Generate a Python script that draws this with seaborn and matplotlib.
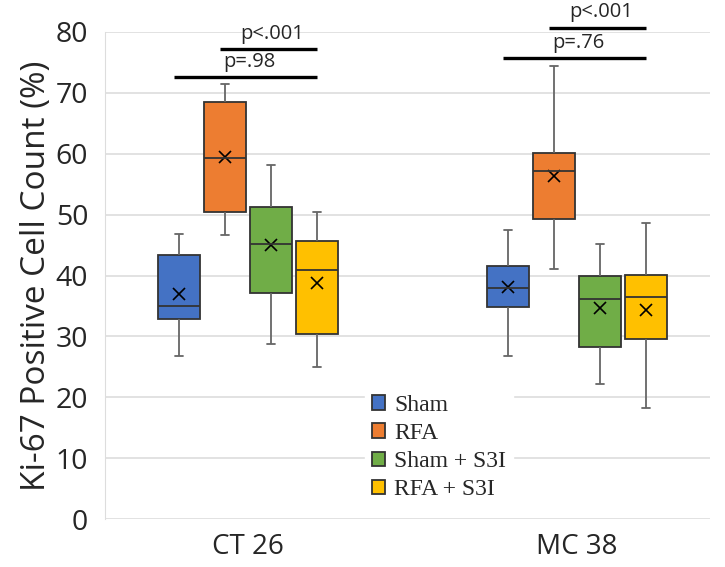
import numpy as np
import pandas as pd
import seaborn as sns
import matplotlib.pyplot as plt

# values
models = ['CT 26', 'MC 38']
groups = ['Sham', 'RFA', 'Sham + S3I', 'RFA + S3I']
colors = ['#4472C4', '#ED7D31', '#70AD47', '#FFC000']

# per model: one value per group (Sham, RFA, Sham+S3I, RFA+S3I)
ct26_low = [26.8, 46.6, 28.7, 25.0]
ct26_q1 = [32.8, 50.4, 37.2, 30.4]
ct26_med = [35.0, 59.3, 45.2, 40.9]
ct26_q3 = [43.3, 68.5, 51.3, 45.7]
ct26_high = [46.8, 71.4, 58.1, 50.4]
ct26_mean = [36.9, 59.5, 45.0, 38.8]

mc38_low = [26.7, 41.1, 22.2, 18.3]
mc38_q1 = [34.8, 49.3, 28.2, 29.6]
mc38_med = [38.0, 57.2, 36.1, 36.5]
mc38_q3 = [41.5, 60.2, 40.0, 40.1]
mc38_high = [47.5, 74.4, 45.1, 48.6]
mc38_mean = [38.1, 56.3, 34.6, 34.4]

# significance brackets: (first group, last group, height, label)
sig_ct26 = [(0, 3, 72.6, 'p=.98'), (1, 3, 77.2, 'p<.001')]
sig_mc38 = [(0, 3, 75.7, 'p=.76'), (1, 3, 80.7, 'p<.001')]

rows = []
stats = {'CT 26': (ct26_low, ct26_q1, ct26_med, ct26_q3, ct26_high),
         'MC 38': (mc38_low, mc38_q1, mc38_med, mc38_q3, mc38_high)}
for m in models:
    for i, g in enumerate(groups):
        for s in stats[m]:
            rows.append({'model': m, 'group': g, 'value': s[i]})
df = pd.DataFrame(rows)

mean_df = pd.DataFrame({
    'model': np.repeat(models, len(groups)),
    'group': groups * 2,
    'value': ct26_mean + mc38_mean,
})

sns.set_style('white')
plt.rcParams['font.family'] = ['Open Sans', 'DejaVu Sans']

fig, ax = plt.subplots(figsize=(7.25, 5.67), dpi=100)
fig.subplots_adjust(left=105 / 725, right=710 / 725, top=1 - 32 / 567, bottom=1 - 519 / 567)

width = 0.56
sns.boxplot(data=df, x='model', y='value', hue='group', order=models, hue_order=groups,
            palette=colors, width=width, gap=0.09, whis=(0, 100), saturation=1,
            linewidth=1.3, linecolor='#333333', capwidths=0.025,
            whiskerprops={'color': '#666666'}, capprops={'color': '#666666'},
            ax=ax)

sns.pointplot(data=mean_df, x='model', y='value', hue='group', order=models, hue_order=groups,
              palette=['black'] * 4, markers='x', linestyle='none', dodge=width * 3 / 4,
              errorbar=None, markersize=8, markeredgewidth=1.2, legend=False, ax=ax)

ax.set_ylim(0, 80)
ax.set_yticks(np.arange(0, 81, 10))
ax.set_xlim(-0.435, 1.404)
ax.yaxis.grid(True, color='#dddddd', lw=1.2)
ax.set_axisbelow(True)
for side in ['top', 'right', 'bottom']:
    ax.spines[side].set_visible(False)
ax.spines['left'].set_color('#dddddd')
ax.tick_params(axis='y', labelsize=20.5, length=0, pad=12)
ax.tick_params(axis='x', labelsize=20, length=0, pad=10)
ax.set_xlabel('')
ax.set_ylabel('Ki-67 Positive Cell Count (%)', fontsize=24, labelpad=2)

# significance brackets
step = width / len(groups)
offs = (np.arange(len(groups)) - 1.5) * step
for mi, sig in enumerate([sig_ct26, sig_mc38]):
    for a, b, h, lab in sig:
        x0, x1 = mi + offs[a] - 0.015, mi + offs[b]
        ax.plot([x0, x1], [h, h], color='black', lw=2.4, clip_on=False, solid_capstyle='butt')
        ax.text((x0 + x1) / 2 + 0.01, h + 0.9, lab, ha='center', va='bottom', fontsize=14.5, clip_on=False)

handles, labels = ax.get_legend_handles_labels()
leg = ax.legend(handles[:4], labels[:4], loc='lower left', bbox_to_anchor=(0.41, 0.0),
                frameon=True, framealpha=1, edgecolor='white', fancybox=False,
                prop={'family': 'Liberation Serif', 'size': 17},
                handlelength=0.55, handleheight=0.55, handletextpad=0.4,
                labelspacing=0.3, borderpad=0.3)

plt.savefig('out.png', dpi=100)
